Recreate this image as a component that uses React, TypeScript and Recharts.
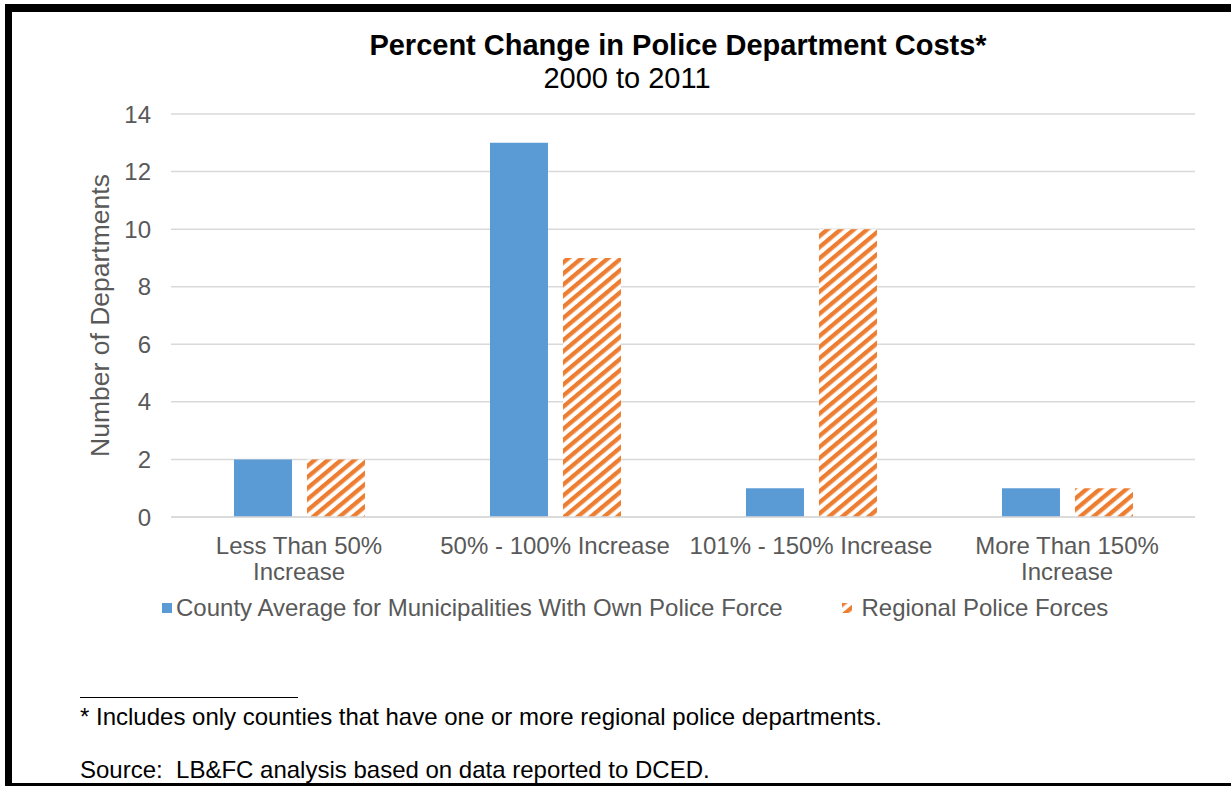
import React from "react";
import {
  Bar,
  BarChart,
  CartesianGrid,
  Legend,
  XAxis,
  YAxis,
} from "recharts";

// categories and values
const categories = [
  "Less Than 50%\nIncrease",
  "50% - 100% Increase",
  "101% - 150% Increase",
  "More Than 150%\nIncrease",
];
const countyAverage = [2, 13, 1, 1];
const regionalForces = [2, 9, 10, 1];
const yTicks = [0, 2, 4, 6, 8, 10, 12, 14];

const seriesNames = {
  county: "County Average for Municipalities With Own Police Force",
  regional: "Regional Police Forces",
};

const data = categories.map((name, i) => ({
  name,
  county: countyAverage[i],
  regional: regionalForces[i],
}));

const FONT = "Arial, 'Liberation Sans', sans-serif";
const BLUE = "#5B9BD5";
const ORANGE = "#ED7D31";
const GREY_TEXT = "#595959";

const StripeDefs = ({ id }: { id: string }) => (
  <defs>
    <pattern
      id={id}
      patternUnits="userSpaceOnUse"
      width={8.5}
      height={8.5}
      patternTransform="rotate(50)"
    >
      <rect x={0} y={0} width={8.5} height={8.5} fill="#ffffff" />
      <rect x={0} y={0} width={4.3} height={8.5} fill={ORANGE} />
    </pattern>
  </defs>
);

const CategoryTick = (props: any) => {
  const { x, y, payload } = props;
  const lines = String(payload.value).split("\n");
  return (
    <text
      x={x}
      y={y}
      textAnchor="middle"
      fill={GREY_TEXT}
      fontSize={24}
      fontFamily={FONT}
    >
      {lines.map((line, i) => (
        <tspan key={i} x={x} dy={i === 0 ? 29 : 26}>
          {line}
        </tspan>
      ))}
    </text>
  );
};

const LegendContent = () => (
  <div
    style={{
      display: "flex",
      alignItems: "center",
      paddingLeft: 162,
      fontFamily: FONT,
      fontSize: 24,
      color: GREY_TEXT,
      whiteSpace: "nowrap",
    }}
  >
    <svg width={14} height={12}>
      <rect x={0} y={1} width={10} height={10} fill={BLUE} />
    </svg>
    <span>{seriesNames.county}</span>
    <svg width={19} height={12} style={{ marginLeft: 60 }}>
      <StripeDefs id="legendStripes" />
      <rect x={0} y={1} width={10} height={10} fill="url(#legendStripes)" />
    </svg>
    <span>{seriesNames.regional}</span>
  </div>
);

const App = () => {
  return (
    <div
      style={{
        position: "relative",
        width: 1231,
        height: 786,
        background: "#ffffff",
        fontFamily: FONT,
        overflow: "hidden",
      }}
    >
      <style>{`body{margin:0}`}</style>

      {/* frame */}
      <div style={{ position: "absolute", left: 5, top: 4, width: 1226, height: 8, background: "#000" }} />
      <div style={{ position: "absolute", left: 5, top: 4, width: 7, height: 782, background: "#000" }} />
      <div style={{ position: "absolute", left: 5, top: 783, width: 1226, height: 3, background: "#000" }} />

      {/* title */}
      <div
        style={{
          position: "absolute",
          left: 0,
          width: 1356,
          top: 27,
          textAlign: "center",
          fontSize: 29,
          fontWeight: "bold",
          color: "#000",
          lineHeight: "36px",
        }}
      >
        Percent Change in Police Department Costs*
      </div>
      <div
        style={{
          position: "absolute",
          left: 0,
          width: 1254,
          top: 60,
          textAlign: "center",
          fontSize: 29,
          color: "#000",
          lineHeight: "36px",
        }}
      >
        2000 to 2011
      </div>

      <div style={{ position: "absolute", left: 0, top: 0 }}>
        <BarChart
          width={1231}
          height={786}
          data={data}
          margin={{ top: 114, right: 36, left: 111, bottom: 209 }}
          barCategoryGap="24.6%"
          barGap={15}
        >
          <StripeDefs id="barStripes" />
          <CartesianGrid stroke="#D9D9D9" strokeWidth={1.5} vertical={false} />
          <XAxis
            dataKey="name"
            height={60}
            tick={<CategoryTick />}
            tickLine={false}
            axisLine={{ stroke: "#D9D9D9", strokeWidth: 1.5 }}
            interval={0}
          />
          <YAxis
            width={60}
            domain={[0, 14]}
            ticks={yTicks}
            tickLine={false}
            axisLine={false}
            tickMargin={14}
            tick={{ fill: GREY_TEXT, fontSize: 24, fontFamily: FONT }}
            label={{
              content: (p: any) => {
                const vb = p.viewBox || {};
                const cx = vb.x - 11;
                const cy = vb.y + vb.height / 2;
                return (
                  <text
                    x={cx}
                    y={cy}
                    transform={`rotate(-90 ${cx} ${cy})`}
                    textAnchor="middle"
                    dominantBaseline="central"
                    fill={GREY_TEXT}
                    fontSize={26.5}
                    fontFamily={FONT}
                  >
                    Number of Departments
                  </text>
                );
              },
            }}
          />
          <Legend
            layout="horizontal"
            align="center"
            verticalAlign="middle"
            wrapperStyle={{ top: 594, left: 0, width: 1231 }}
            content={<LegendContent />}
          />
          <Bar
            dataKey="county"
            name={seriesNames.county}
            fill={BLUE}
            isAnimationActive={false}
          />
          <Bar
            dataKey="regional"
            name={seriesNames.regional}
            fill="url(#barStripes)"
            isAnimationActive={false}
          />
        </BarChart>
      </div>

      {/* footnotes */}
      <div style={{ position: "absolute", left: 80, top: 697, width: 218, height: 1, background: "#000" }} />
      <div style={{ position: "absolute", left: 80, top: 703, fontSize: 24, color: "#000", lineHeight: "28px", whiteSpace: "nowrap" }}>
        * Includes only counties that have one or more regional police departments.
      </div>
      <div style={{ position: "absolute", left: 80, top: 756, fontSize: 24, color: "#000", lineHeight: "28px", whiteSpace: "nowrap" }}>
        Source:&nbsp; LB&amp;FC analysis based on data reported to DCED.
      </div>
    </div>
  );
};

export default App;
